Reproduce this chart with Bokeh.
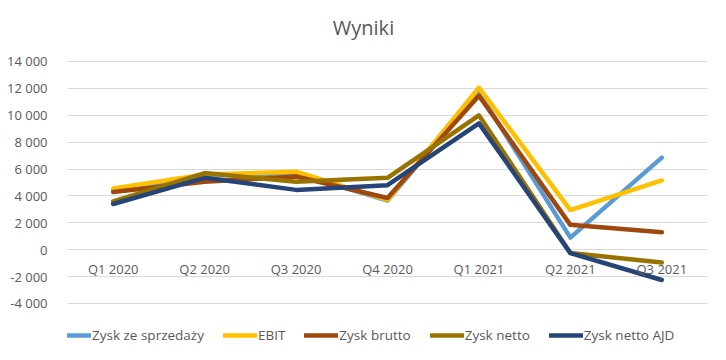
from bokeh.plotting import figure
from bokeh.models import FactorRange, Range1d, Legend, LegendItem, CustomJSTickFormatter, FixedTicker, Label
from bokeh.embed import file_html
from bokeh.resources import INLINE

categories = ["Q1 2020", "Q2 2020", "Q3 2020", "Q4 2020", "Q1 2021", "Q2 2021", "Q3 2021"]
zysk_ze_sprzedazy = [4400, 5500, 5700, 3650, 11700, 900, 6850]
ebit = [4550, 5600, 5800, 3700, 12050, 2950, 5150]
zysk_brutto = [4300, 5050, 5450, 3850, 11450, 1850, 1300]
zysk_netto = [3600, 5700, 5050, 5350, 10000, -250, -950]
zysk_netto_ajd = [3400, 5350, 4450, 4800, 9400, -250, -2250]
y_ticks = [-4000, -2000, 0, 2000, 4000, 6000, 8000, 10000, 12000, 14000]
chart_title = "Wyniki"

series = [
    ("Zysk ze sprzedaży", zysk_ze_sprzedazy, "#5B9BD5"),
    ("EBIT", ebit, "#FFC000"),
    ("Zysk brutto", zysk_brutto, "#9E480E"),
    ("Zysk netto", zysk_netto, "#997300"),
    ("Zysk netto AJD", zysk_netto_ajd, "#264478"),
]

TXT = "#595959"
FONT = "Open Sans"

# frame covers the full height (title above and legend below sit inside it);
# gridlines/ticks only at the -4000..14000 values
p = figure(width=718, height=352, x_range=FactorRange(*categories, range_padding=0),
           y_range=Range1d(-7645, 18537), output_backend="svg", toolbar_location=None,
           min_border_left=67, min_border_right=11, min_border_top=0, min_border_bottom=0)
p.title.text = ""
p.title.visible = False

title_label = Label(x=296, y=325, x_units="screen", y_units="screen", text=chart_title,
                    text_align="center", text_baseline="middle", text_font=FONT,
                    text_font_size="20px", text_color=TXT)
p.add_layout(title_label)

items = []
for name, vals, color in series:
    r = p.line(categories, vals, line_color=color, line_width=4.5, line_cap="round", line_join="round")
    items.append(LegendItem(label=name, renderers=[r]))

p.outline_line_color = None
p.background_fill_color = "white"
p.border_fill_color = "white"

p.xgrid.grid_line_color = None
p.ygrid.grid_line_color = "#D9D9D9"
p.ygrid.grid_line_width = 1

p.yaxis.ticker = FixedTicker(ticks=y_ticks)
p.yaxis.formatter = CustomJSTickFormatter(code="return Math.round(tick).toString().replace(/\\B(?=(\\d{3})+(?!\\d))/g, ' ');")
p.yaxis.axis_line_color = None
p.yaxis.major_tick_line_color = None
p.yaxis.minor_tick_line_color = None
p.yaxis.major_label_standoff = 14
p.yaxis.major_label_text_font = FONT
p.yaxis.major_label_text_font_size = "13px"
p.yaxis.major_label_text_color = TXT

p.xaxis.fixed_location = 0
p.xaxis.axis_line_color = None
p.xaxis.major_tick_line_color = None
p.xaxis.minor_tick_line_color = None
p.xaxis.major_label_standoff = 4
p.xaxis.major_label_text_font = FONT
p.xaxis.major_label_text_font_size = "13px"
p.xaxis.major_label_text_color = TXT

legend = Legend(items=items, orientation="horizontal", location=(-10, 8),
                label_text_font=FONT, label_text_font_size="13.5px", label_text_color=TXT,
                glyph_width=34, glyph_height=16, label_standoff=1, spacing=19,
                padding=0, margin=0, border_line_color=None, background_fill_alpha=0)
p.add_layout(legend, "center")

open("out.html", "w").write(file_html(p, INLINE))
